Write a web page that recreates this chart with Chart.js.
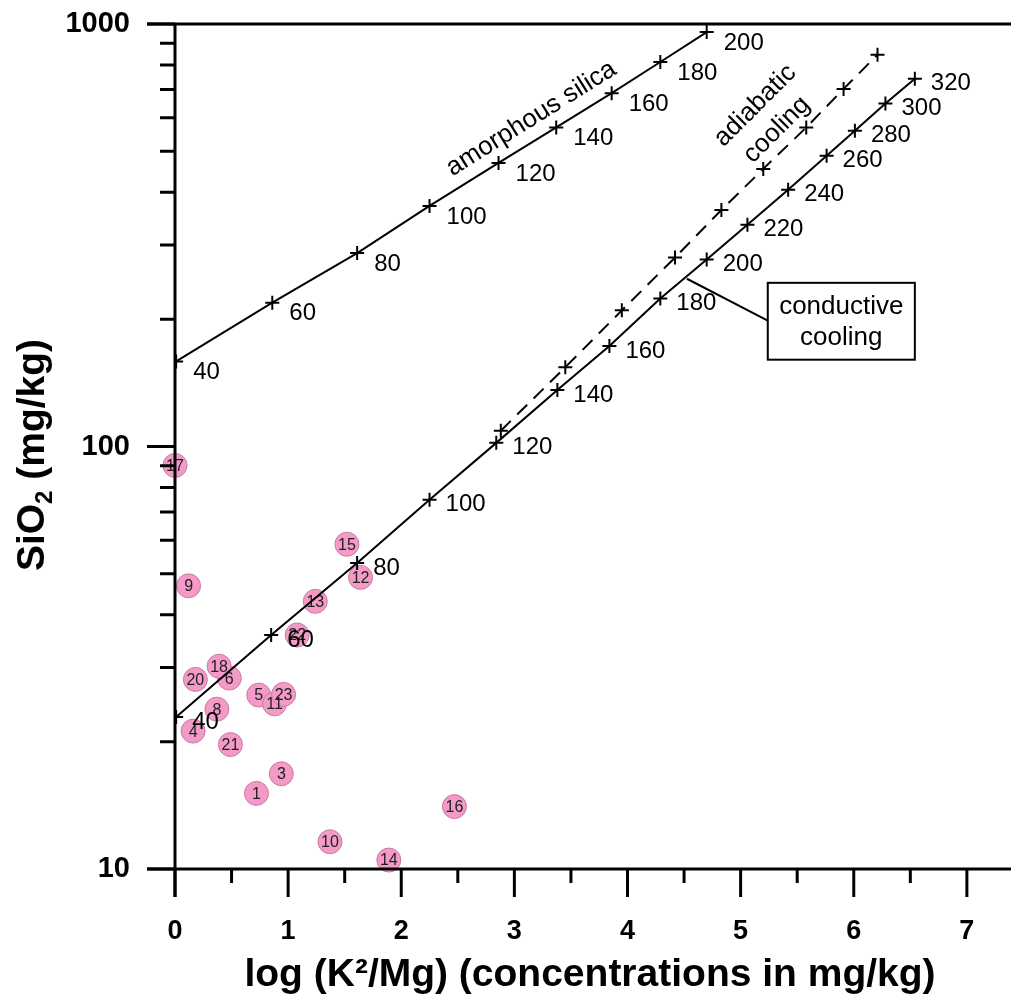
<!DOCTYPE html>
<html>
<head>
<meta charset="utf-8">
<script src="https://cdn.jsdelivr.net/npm/chart.js@4"></script>
<style>
body{margin:0;background:#fff}
#wrap{width:1011px;height:996px}
</style>
</head>
<body>
<div id="wrap"><canvas id="myChart" width="1011" height="996"></canvas></div>
<script>
// temperatures (deg C) marked along the curves
let amTemps=[40,60,80,100,120,140,160,180,200]
let amX=[0.01,0.86,1.61,2.25,2.86,3.37,3.86,4.29,4.70]
let amY=[159,219,287,371,469,569,686,813,957]

let coTemps=[40,60,80,100,120,140,160,180,200,220,240,260,280,300,320]
let coX=[0.01,0.85,1.61,2.25,2.84,3.38,3.84,4.29,4.70,5.06,5.42,5.76,6.01,6.28,6.54]
let coY=[22.9,35.8,53.0,74.8,102,136,173,224,277,335,405,488,559,648,742]

// adiabatic cooling (dashed)
let adX=[2.88,3.45,3.95,4.42,4.83,5.20,5.58,5.91,6.21]
let adY=[109,154,210,280,363,454,569,702,846]

// water samples
let sampleNo=[1,3,4,5,6,8,9,10,11,12,13,14,15,16,17,18,20,21,22,23]
let sampleX=[0.72,0.94,0.16,0.74,0.48,0.37,0.12,1.37,0.88,1.64,1.24,1.89,1.52,2.47,0.0,0.39,0.18,0.49,1.08,0.96]
let sampleY=[15.1,16.8,21.2,25.8,28.3,23.9,46.8,11.6,24.6,49.0,43.0,10.5,58.7,14.05,90.2,30.2,28.1,19.7,35.8,25.9]

let xTicks=[0,0.5,1,1.5,2,2.5,3,3.5,4,4.5,5,5.5,6,6.5,7]
let yTicks=[10,20,30,40,50,60,70,80,90,100,200,300,400,500,600,700,800,900,1000]
let yLabels=[10,100,1000]

const FONT='"Liberation Sans", Arial, sans-serif'

function pts(xs,ys){
  return xs.map((x,i)=>({x:x,y:ys[i]}))
}

function noPad(s){
  s.paddingTop=0; s.paddingBottom=0; s.paddingLeft=0; s.paddingRight=0
}

let lineStyle={
  showLine:true,
  borderColor:'#000',
  borderWidth:2,
  tension:0,
  pointStyle:'cross',
  pointRadius:7,
  pointBorderWidth:2,
  pointBorderColor:'#000',
  fill:false
}

function drawLabels(c,xs,ys,vx,vy,temps,dx,dy){
  temps.forEach((t,i)=>{
    c.fillText(String(t),xs.getPixelForValue(vx[i])+dx,ys.getPixelForValue(vy[i])+dy)
  })
}

let extras={
  id:'extras',
  afterDatasetDraw(chart,args){
    if(args.index!==3) return
    let c=chart.ctx, xs=chart.scales.x, ys=chart.scales.y
    c.save()
    c.font='16px '+FONT
    c.fillStyle='#222'
    c.textAlign='center'
    c.textBaseline='middle'
    sampleNo.forEach((n,i)=>{
      c.fillText(String(n),xs.getPixelForValue(sampleX[i]),ys.getPixelForValue(sampleY[i])+1)
    })
    c.restore()
  },
  afterDraw(chart){
    let c=chart.ctx, xs=chart.scales.x, ys=chart.scales.y
    let a=chart.chartArea
    c.save()
    c.strokeStyle='#000'
    c.lineWidth=3
    c.lineCap='butt'
    // axes
    c.beginPath()
    c.moveTo(a.left-28,a.bottom); c.lineTo(a.right,a.bottom)
    c.moveTo(a.left-28,a.top); c.lineTo(a.right,a.top)
    c.moveTo(a.left,a.top); c.lineTo(a.left,a.bottom+28)
    c.stroke()
    // ticks
    c.beginPath()
    yTicks.forEach(v=>{
      let y=ys.getPixelForValue(v)
      let len=yLabels.includes(v)?28:15
      c.moveTo(a.left-len,y); c.lineTo(a.left,y)
    })
    xTicks.forEach(v=>{
      let x=xs.getPixelForValue(v)
      let len=Number.isInteger(v)?28:14
      c.moveTo(x,a.bottom); c.lineTo(x,a.bottom+len)
    })
    c.stroke()

    // temperature labels
    c.fillStyle='#000'
    c.font='24px '+FONT
    c.textAlign='left'
    c.textBaseline='middle'
    drawLabels(c,xs,ys,coX,coY,coTemps,16,5)
    drawLabels(c,xs,ys,amX,amY,amTemps,17,11)

    // curve names
    c.font='26px '+FONT
    c.textAlign='center'
    c.save()
    c.translate(xs.getPixelForValue(3.15),ys.getPixelForValue(597))
    c.rotate(-32*Math.PI/180)
    c.fillText('amorphous silica',0,0)
    c.restore()

    c.save()
    c.translate(xs.getPixelForValue(5.13),ys.getPixelForValue(641))
    c.rotate(-45*Math.PI/180)
    c.fillText('adiabatic',0,0)
    c.restore()
    c.save()
    c.translate(xs.getPixelForValue(5.32),ys.getPixelForValue(562))
    c.rotate(-45*Math.PI/180)
    c.fillText('cooling',0,0)
    c.restore()

    // conductive cooling box + leader
    let bx1=xs.getPixelForValue(5.24), bx2=xs.getPixelForValue(6.54)
    let by1=ys.getPixelForValue(244), by2=ys.getPixelForValue(160.5)
    c.lineWidth=2
    c.beginPath()
    c.moveTo(xs.getPixelForValue(4.525),ys.getPixelForValue(249.5))
    c.lineTo(bx1,ys.getPixelForValue(198.5))
    c.stroke()
    c.fillStyle='#fff'
    c.fillRect(bx1,by1,bx2-bx1,by2-by1)
    c.strokeRect(bx1,by1,bx2-bx1,by2-by1)
    c.fillStyle='#000'
    c.fillText('conductive',(bx1+bx2)/2,by1+24)
    c.fillText('cooling',(bx1+bx2)/2,by1+55)

    // axis titles
    c.font='bold 39px '+FONT
    c.textAlign='center'
    c.textBaseline='alphabetic'
    c.fillText('log (K\u00b2/Mg) (concentrations in mg/kg)',590,986)

    c.save()
    c.translate(44,455)
    c.rotate(-Math.PI/2)
    let big='bold 39px '+FONT, small='bold 24px '+FONT
    c.font=big
    let w1=c.measureText('SiO').width, w3=c.measureText(' (mg/kg)').width
    c.font=small
    let w2=c.measureText('2').width
    let x0=-(w1+w2+w3)/2
    c.textAlign='left'
    c.font=big
    c.fillText('SiO',x0,0)
    c.font=small
    c.fillText('2',x0+w1,8)
    c.font=big
    c.fillText(' (mg/kg)',x0+w1+w2,0)
    c.restore()

    c.restore()
  }
}

let ctx=document.getElementById('myChart').getContext('2d')
let myChart=new Chart(ctx,{
  type:'scatter',
  data:{
    datasets:[
      Object.assign({label:'amorphous silica',data:pts(amX,amY)},lineStyle),
      Object.assign({label:'conductive cooling',data:pts(coX,coY)},lineStyle),
      Object.assign({label:'adiabatic cooling',data:pts(adX,adY),borderDash:[14,9]},lineStyle),
      {
        label:'samples',
        data:pts(sampleX,sampleY),
        showLine:false,
        pointStyle:'circle',
        pointRadius:12,
        backgroundColor:'#f49ac8',
        borderColor:'#c97aa2',
        borderWidth:1,
        clip:false
      }
    ]
  },
  options:{
    responsive:false,
    animation:false,
    layout:{autoPadding:false,padding:{top:24,left:0,right:0,bottom:0}},
    plugins:{legend:{display:false},tooltip:{enabled:false}},
    scales:{
      x:{
        type:'linear',
        min:0,
        max:7.39,
        grid:{display:false,drawTicks:false},
        border:{display:false},
        afterBuildTicks:s=>{s.ticks=xTicks.map(v=>({value:v}))},
        afterFit:s=>{s.height=127; noPad(s)},
        ticks:{
          autoSkip:false,
          maxRotation:0,
          padding:46,
          color:'#000',
          font:{family:FONT,size:27,weight:'bold'},
          callback:v=>Number.isInteger(v)?String(v):''
        }
      },
      y:{
        type:'logarithmic',
        min:10,
        max:1000,
        grid:{display:false,drawTicks:false},
        border:{display:false},
        afterBuildTicks:s=>{s.ticks=yTicks.map(v=>({value:v}))},
        afterFit:s=>{s.width=175; noPad(s)},
        ticks:{
          autoSkip:false,
          padding:45,
          color:'#000',
          font:{family:FONT,size:29,weight:'bold'},
          callback:v=>yLabels.includes(v)?String(v):''
        }
      }
    }
  },
  plugins:[extras]
})
</script>
</body>
</html>
